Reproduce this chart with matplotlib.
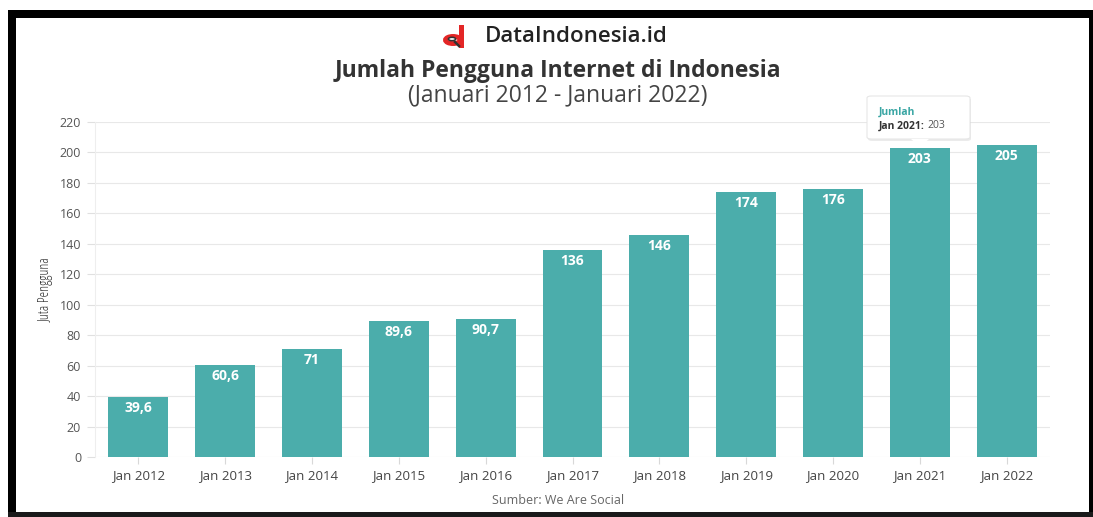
import matplotlib
matplotlib.use("Agg")
import matplotlib.pyplot as plt
from matplotlib.patches import Rectangle, Circle, FancyBboxPatch, Polygon
import numpy as np

plt.rcParams['font.family'] = ['Open Sans', 'DejaVu Sans']

years = ["Jan 2012", "Jan 2013", "Jan 2014", "Jan 2015", "Jan 2016", "Jan 2017",
         "Jan 2018", "Jan 2019", "Jan 2020", "Jan 2021", "Jan 2022"]
users = [39.6, 60.6, 71, 89.6, 90.7, 136, 146, 174, 176, 203, 205]
labels = ["39,6", "60,6", "71", "89,6", "90,7", "136", "146", "174", "176", "203", "205"]

W, H = 1093, 517
fig = plt.figure(figsize=(W / 100, H / 100), dpi=100)
fig.patch.set_facecolor("white")


def fx(px):
    return px / W


def fy(py):
    return 1 - py / H


# plot area
ax = fig.add_axes([fx(95), fy(457), (1050 - 95) / W, (457 - 122) / H])
x = np.arange(len(years))
bar_color = "#4BADAB"
ax.bar(x, users, width=0.69, color=bar_color, zorder=3)
for xi, v, lab in zip(x, users, labels):
    ax.annotate(lab, (xi, v), xytext=(0, -8), textcoords="offset points",
                ha="center", va="center", color="white", fontsize=10,
                fontweight="bold", zorder=4)

ax.set_xlim(-0.5, len(years) - 0.5)
ax.set_ylim(0, 220)
ax.set_yticks(np.arange(0, 221, 20))
ax.set_xticks(x)
ax.set_xticklabels(years)
ax.grid(axis="y", color="#e8e8e8", linewidth=0.8, zorder=0)
for s in ["top", "right", "bottom"]:
    ax.spines[s].set_visible(False)
ax.spines["left"].set_color("#eeeeee")
ax.tick_params(axis="y", colors="#e0e0e0", labelcolor="#555555", labelsize=9, length=6, pad=4)
ax.tick_params(axis="x", colors="#d8d8d8", labelcolor="#444444", labelsize=9.5, length=5, pad=4)
ax.set_ylabel("Juta Pengguna", fontsize=10, color="#333333", fontstretch="condensed")
ax.yaxis.set_label_coords(-0.043, 0.5)

# header logo
fig.add_artist(Circle((fx(453), fy(40)), 7.5 / W, transform=fig.transFigure,
                      facecolor="white", edgecolor="#e32626", linewidth=3.5, zorder=5))
fig.add_artist(Rectangle((fx(459), fy(48)), 5 / W, 23 / H, transform=fig.transFigure,
                         facecolor="#e32626", edgecolor="none", zorder=5))
fig.add_artist(Circle((fx(452), fy(39)), 3.6 / W, transform=fig.transFigure,
                      facecolor="#f4f4f4", edgecolor="#333333", linewidth=1.1, zorder=6))
fig.add_artist(plt.Line2D([fx(455), fx(459)], [fy(42), fy(46)],
                          transform=fig.transFigure, color="#333333", linewidth=1.8, zorder=6))
fig.text(fx(485), fy(37), "DataIndonesia.id", fontsize=16, fontweight="semibold",
         color="#222222", ha="left", va="center")

fig.text(fx(558), fy(71), "Jumlah Pengguna Internet di Indonesia", fontsize=16.5,
         fontweight="bold", color="#333333", ha="center", va="center")
fig.text(fx(558), fy(95), "(Januari 2012 - Januari 2022)", fontsize=16.5,
         color="#444444", ha="center", va="center")
fig.text(fx(558), fy(500), "Sumber: We Are Social", fontsize=9, color="#666666",
         ha="center", va="center")

# tooltip
shadow = FancyBboxPatch((fx(868), fy(141)), 103 / W, 43 / H,
                        boxstyle="round,pad=0,rounding_size=0.004", transform=fig.transFigure,
                        facecolor="#000000", alpha=0.08, edgecolor="none", zorder=5)
fig.add_artist(shadow)
tip = FancyBboxPatch((fx(867), fy(139)), 103 / W, 43 / H,
                     boxstyle="round,pad=0,rounding_size=0.004", transform=fig.transFigure,
                     facecolor="white", edgecolor="#e6e6e6", linewidth=0.8, zorder=6)
fig.add_artist(tip)
fig.add_artist(Polygon([(fx(911), fy(139)), (fx(929), fy(139)), (fx(920), fy(147))],
                       closed=True, transform=fig.transFigure, facecolor="white",
                       edgecolor="none", zorder=7))
fig.text(fx(879), fy(112), "Jumlah", fontsize=7.5, fontweight="bold", color="#3aa6a4",
         ha="left", va="center", zorder=8)
t = fig.text(fx(879), fy(126), "Jan 2021:", fontsize=7.5, fontweight="bold",
             color="#333333", ha="left", va="center", zorder=8)
fig.canvas.draw()
bb = t.get_window_extent().transformed(fig.transFigure.inverted())
fig.text(bb.x1 + 3 / W, fy(126), "203", fontsize=7.5, color="#555555",
         ha="left", va="center", zorder=8)

# screenshot frame
frame = [((8, 10), 1085, 8, "#000000"), ((8, 10), 8, 507, "#000000"),
         ((1089, 10), 4, 507, "#000000"), ((8, 512), 1085, 5, "#1a1a1a")]
for (rx, ry), rw, rh, rc in frame:
    fig.add_artist(Rectangle((fx(rx), fy(ry + rh)), rw / W, rh / H,
                             transform=fig.transFigure, facecolor=rc, edgecolor="none", zorder=10))

fig.savefig("out.png", dpi=100)
